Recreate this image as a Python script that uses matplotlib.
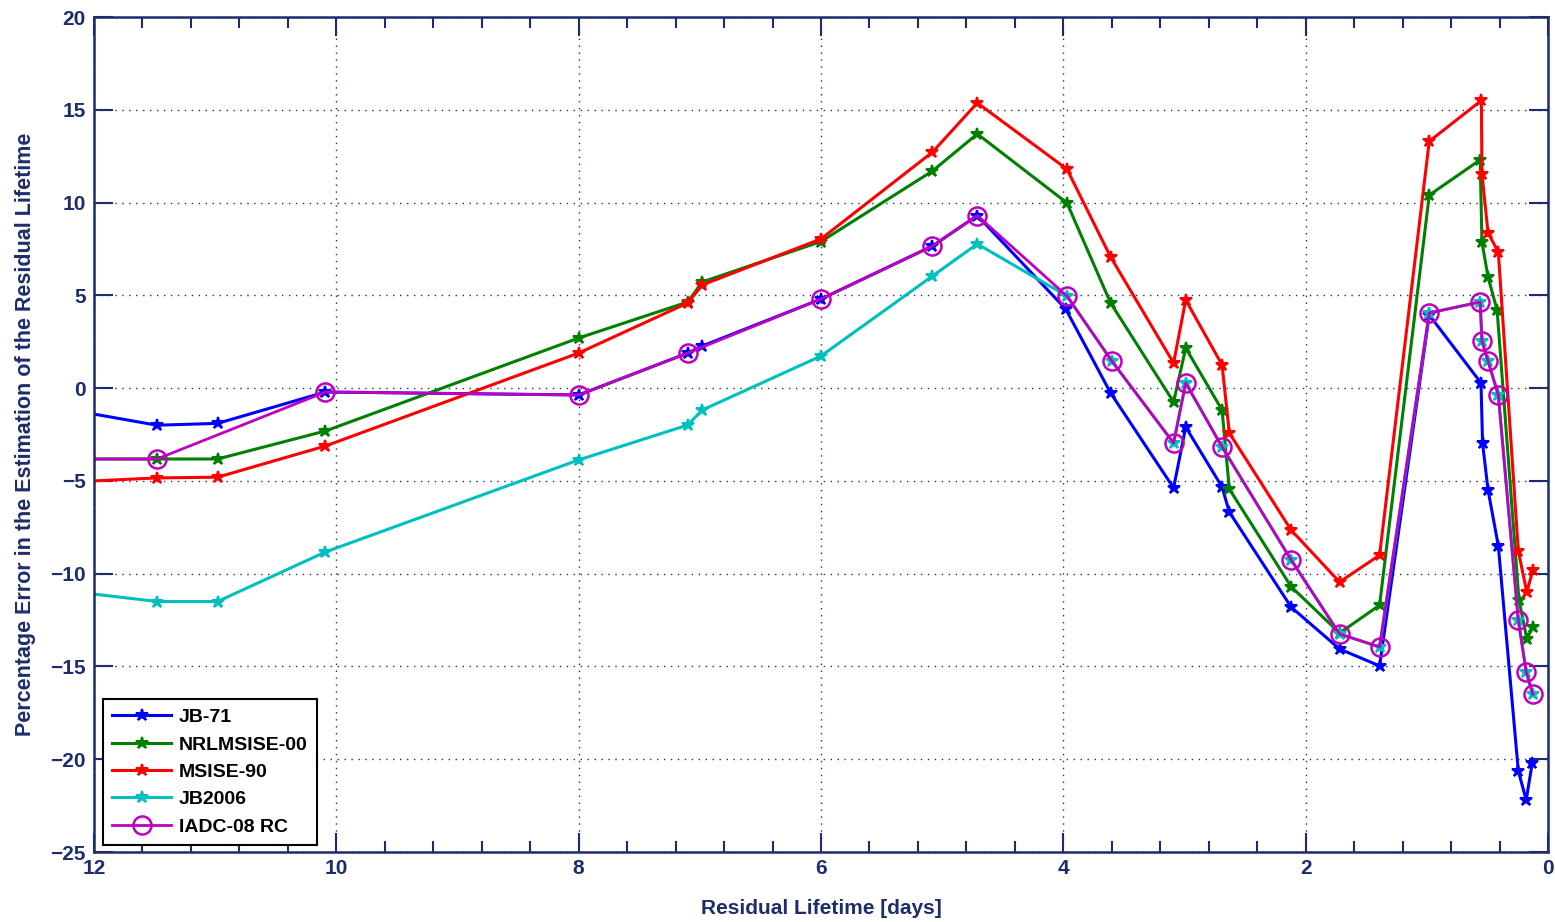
import matplotlib
matplotlib.use("Agg")
import matplotlib.pyplot as plt
from matplotlib.ticker import MultipleLocator

plt.rcParams['font.family'] = ['Liberation Sans', 'DejaVu Sans']
plt.rcParams['font.weight'] = 'bold'

# ---------------- data ----------------
jb71_x = [12.0, 11.48, 10.98, 10.09, 8.0, 7.1, 6.98, 6.0, 5.08, 4.71, 3.98, 3.61, 3.09, 2.99,
          2.69, 2.63, 2.12, 1.72, 1.39, 0.98, 0.553, 0.54, 0.495, 0.41, 0.245, 0.18, 0.13]
jb71_y = [-1.4, -2.0, -1.9, -0.21, -0.37, 1.89, 2.27, 4.8, 7.66, 9.3, 4.26, -0.26, -5.38, -2.1,
          -5.33, -6.68, -11.8, -14.06, -14.97, 3.94, 0.28, -2.96, -5.49, -8.5, -20.63, -22.2, -20.2]

nrl_x = [12.0, 11.48, 10.98, 10.09, 8.0, 7.1, 6.98, 6.0, 5.08, 4.71, 3.97, 3.61, 3.09, 2.99,
         2.69, 2.63, 2.12, 1.72, 1.39, 0.98, 0.56, 0.545, 0.495, 0.42, 0.24, 0.175, 0.125]
nrl_y = [-3.82, -3.82, -3.82, -2.31, 2.7, 4.64, 5.72, 7.9, 11.7, 13.7, 9.98, 4.59, -0.75, 2.16,
         -1.18, -5.44, -10.7, -13.2, -11.7, 10.4, 12.3, 7.87, 5.99, 4.2, -11.4, -13.5, -12.9]

msis_x = [12.0, 11.48, 10.98, 10.09, 8.0, 7.1, 6.98, 6.0, 5.08, 4.71, 3.97, 3.61, 3.09, 2.99,
          2.69, 2.63, 2.12, 1.72, 1.39, 0.98, 0.55, 0.545, 0.495, 0.41, 0.245, 0.175, 0.125]
msis_y = [-5.0, -4.84, -4.8, -3.12, 1.89, 4.59, 5.56, 8.04, 12.72, 15.37, 11.8, 7.07, 1.35, 4.75,
          1.25, -2.42, -7.65, -10.45, -9.0, 13.3, 15.5, 11.55, 8.36, 7.34, -8.78, -11.0, -9.8]

jb06_x = [12.0, 11.48, 10.98, 10.09, 8.0, 7.1, 6.98, 6.0, 5.08, 4.71, 3.97, 3.6, 3.09, 2.99,
          2.69, 2.12, 1.72, 1.39, 0.98, 0.56, 0.545, 0.495, 0.41, 0.245, 0.18, 0.125]
jb06_y = [-11.1, -11.5, -11.5, -8.83, -3.87, -1.99, -1.18, 1.73, 6.04, 7.77, 4.96, 1.46, -2.96, 0.28,
          -3.17, -9.26, -13.25, -13.95, 4.05, 4.64, 2.54, 1.46, -0.37, -12.5, -15.3, -16.5]

iadc_x = [12.0, 11.48, 10.09, 8.0, 7.1, 6.0, 5.08, 4.71, 3.97, 3.6, 3.09, 2.99,
          2.69, 2.12, 1.72, 1.39, 0.98, 0.56, 0.545, 0.495, 0.41, 0.245, 0.18, 0.125]
iadc_y = [-3.82, -3.82, -0.21, -0.37, 1.89, 4.8, 7.66, 9.3, 4.96, 1.46, -2.96, 0.28,
          -3.17, -9.26, -13.25, -13.95, 4.05, 4.64, 2.54, 1.46, -0.37, -12.5, -15.3, -16.5]

labels = ['JB-71', 'NRLMSISE-00', 'MSISE-90', 'JB2006', 'IADC-08 RC']
x_ticks = [12, 10, 8, 6, 4, 2, 0]
y_ticks = [20, 15, 10, 5, 0, -5, -10, -15, -20, -25]

navy = '#1c2c6c'

fig = plt.figure(figsize=(15.55, 9.22), dpi=100)
ax = fig.add_axes([94/1555, 1-852/922, (1548-94)/1555, (852-17)/922])

star = dict(marker='*', markersize=9, markeredgewidth=1.5, linewidth=2.2)
ax.plot(jb71_x, jb71_y, color='#0000ff', label=labels[0], markevery=slice(1, None), **star)
ax.plot(nrl_x, nrl_y, color='#008000', label=labels[1], markevery=slice(1, None), **star)
ax.plot(msis_x, msis_y, color='#ff0000', label=labels[2], markevery=slice(1, None), **star)
ax.plot(jb06_x, jb06_y, color='#00bfbf', label=labels[3], markevery=slice(1, None), **star)
ax.plot(iadc_x, iadc_y, color='#bf00bf', label=labels[4], marker='o', markersize=13,
        markerfacecolor='none', markeredgewidth=1.8, linewidth=2.0, markevery=slice(1, None))

ax.set_xlim(12, 0)
ax.set_ylim(-25, 20)
ax.set_xticks(x_ticks)
ax.set_yticks(y_ticks)
ax.xaxis.set_minor_locator(MultipleLocator(0.4))

ax.grid(True, which='major', linestyle=(0, (1, 4)), color=navy, linewidth=1.0)
ax.tick_params(which='both', direction='in', top=True, right=True, colors=navy,
               labelcolor=navy, labelsize=15, width=1.5)
ax.tick_params(which='major', length=14)
ax.tick_params(which='minor', length=8)
ax.tick_params(axis='x', pad=5)
ax.tick_params(axis='y', pad=6)
for s in ax.spines.values():
    s.set_color(navy)
    s.set_linewidth(1.8)
for lab in ax.get_xticklabels() + ax.get_yticklabels():
    lab.set_fontweight('bold')

ax.set_xlabel('Residual Lifetime [days]', fontsize=15, fontweight='bold', color=navy, labelpad=15)
ax.set_ylabel('Percentage Error in the Estimation of the Residual Lifetime', fontsize=15.5,
              fontweight='bold', color=navy, labelpad=10)

leg = ax.legend(loc='lower left', bbox_to_anchor=(0.006, 0.008), borderaxespad=0,
                fontsize=14, frameon=True, fancybox=False, edgecolor='black', framealpha=1,
                handlelength=3.0, borderpad=0.5, labelspacing=0.5, handletextpad=0.4)
leg.get_frame().set_linewidth(1.5)
for t in leg.get_texts():
    t.set_fontweight('bold')

fig.savefig('out.png', dpi=100)
